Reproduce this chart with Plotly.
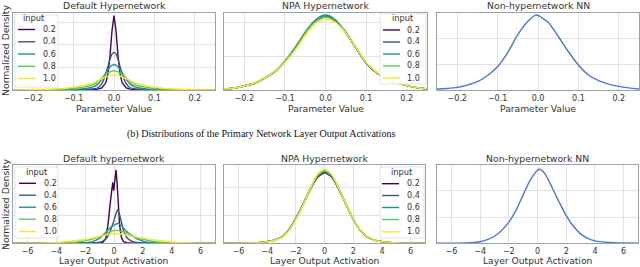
import plotly.graph_objects as go

# ---------------- data ----------------
inputs = ["0.2", "0.4", "0.6", "0.8", "1.0"]
colors = ["#440154", "#3b528b", "#21918c", "#5ec962", "#fde725"]

# (a) parameter values, Default Hypernetwork
p_def_x = [-0.25, -0.2, -0.15, -0.12, -0.1, -0.08, -0.06, -0.05, -0.04, -0.03, -0.02, -0.015, -0.01, -0.005, 0,
           0.005, 0.01, 0.015, 0.02, 0.03, 0.04, 0.05, 0.06, 0.08, 0.1, 0.12, 0.15, 0.2, 0.25]
p_def_02 = [0, 0, 0, 0.002, 0.004, 0.008, 0.015, 0.022, 0.04, 0.09, 0.33, 0.72, 1.5, 2.62, 3.31,
            2.62, 1.5, 0.72, 0.33, 0.09, 0.04, 0.022, 0.015, 0.008, 0.004, 0.002, 0, 0, 0]
p_def_04 = [0, 0.001, 0.003, 0.006, 0.01, 0.018, 0.035, 0.055, 0.1, 0.28, 0.73, 1.05, 1.36, 1.59, 1.67,
            1.59, 1.36, 1.05, 0.73, 0.28, 0.1, 0.055, 0.035, 0.018, 0.01, 0.006, 0.003, 0.001, 0]
p_def_06 = [0, 0.003, 0.008, 0.015, 0.025, 0.045, 0.1, 0.15, 0.26, 0.48, 0.77, 0.91, 1.02, 1.1, 1.12,
            1.1, 1.02, 0.91, 0.77, 0.48, 0.26, 0.15, 0.1, 0.045, 0.025, 0.015, 0.008, 0.003, 0]
p_def_08 = [0.001, 0.005, 0.015, 0.035, 0.065, 0.115, 0.19, 0.25, 0.37, 0.53, 0.69, 0.76, 0.81, 0.84, 0.85,
            0.84, 0.81, 0.76, 0.69, 0.53, 0.37, 0.25, 0.19, 0.115, 0.065, 0.035, 0.015, 0.005, 0.001]
p_def_10 = [0.003, 0.012, 0.045, 0.085, 0.13, 0.19, 0.27, 0.32, 0.41, 0.5, 0.58, 0.62, 0.64, 0.66, 0.66,
            0.66, 0.64, 0.62, 0.58, 0.5, 0.41, 0.32, 0.27, 0.19, 0.13, 0.085, 0.045, 0.012, 0.003]

# (a) parameter values, NPA Hypernetwork
p_npa_x = [-0.25, -0.225, -0.2, -0.175, -0.15, -0.125, -0.1, -0.075, -0.05, -0.0375, -0.025, -0.0125, 0,
           0.0125, 0.025, 0.0375, 0.05, 0.075, 0.1, 0.125, 0.15, 0.175, 0.2, 0.225, 0.25]
p_npa_02 = [0.03, 0.06, 0.12, 0.2, 0.35, 0.54, 0.84, 1.24, 1.7, 1.88, 2.03, 2.13, 2.18,
            2.14, 2.04, 1.89, 1.71, 1.25, 0.8, 0.52, 0.35, 0.22, 0.13, 0.07, 0.03]
p_npa_04 = [0.03, 0.06, 0.12, 0.2, 0.35, 0.55, 0.85, 1.25, 1.71, 1.9, 2.05, 2.16, 2.2,
            2.16, 2.05, 1.9, 1.71, 1.25, 0.8, 0.52, 0.35, 0.22, 0.13, 0.07, 0.03]
p_npa_06 = [0.03, 0.06, 0.12, 0.2, 0.35, 0.55, 0.85, 1.26, 1.72, 1.92, 2.08, 2.19, 2.23,
            2.19, 2.08, 1.91, 1.72, 1.26, 0.81, 0.52, 0.35, 0.22, 0.13, 0.07, 0.03]
p_npa_08 = [0.03, 0.06, 0.12, 0.2, 0.35, 0.55, 0.84, 1.23, 1.69, 1.88, 2.03, 2.13, 2.17,
            2.13, 2.03, 1.88, 1.7, 1.26, 0.81, 0.53, 0.35, 0.22, 0.13, 0.07, 0.03]
p_npa_10 = [0.03, 0.06, 0.12, 0.21, 0.36, 0.55, 0.82, 1.18, 1.62, 1.82, 1.98, 2.07, 2.1,
            2.08, 2.0, 1.87, 1.7, 1.27, 0.83, 0.54, 0.36, 0.22, 0.13, 0.07, 0.03]

# (a) parameter values, Non-hypernetwork NN
p_nn_x = [-0.25, -0.225, -0.2, -0.175, -0.15, -0.125, -0.1, -0.075, -0.05, -0.025, -0.006, 0,
          0.025, 0.05, 0.075, 0.1, 0.125, 0.15, 0.175, 0.2, 0.225, 0.25]
p_nn_y = [0.04, 0.06, 0.1, 0.19, 0.32, 0.56, 0.91, 1.45, 2.14, 2.66, 2.9, 2.89,
          2.62, 2.08, 1.49, 0.97, 0.58, 0.36, 0.23, 0.14, 0.08, 0.04]

# (b) layer output activations, Default hypernetwork
a_def_x02 = [-7, -2, -1.2, -0.8, -0.57, -0.41, -0.28, -0.16, -0.09, -0.02, 0.05, 0.14, 0.21, 0.3, 0.39,
             0.51, 0.64, 0.92, 1.5, 7]
a_def_02 = [0, 0, 0.005, 0.02, 0.17, 0.71, 1.37, 2.04, 2.22, 1.92, 2.4, 2.67, 2.22, 1.37, 0.65,
            0.23, 0.07, 0.01, 0, 0]
a_def_x04 = [-7, -2, -1.26, -0.8, -0.46, -0.2, 0, 0.12, 0.25, 0.35, 0.46, 0.69, 0.92, 1.26, 1.72, 2.5, 7]
a_def_04 = [0, 0.005, 0.02, 0.07, 0.23, 0.53, 0.83, 1.05, 1.22, 1.1, 0.89, 0.41, 0.19, 0.07, 0.02, 0.005, 0]
a_def_x06 = [-7, -3, -1.95, -1.26, -0.8, -0.34, 0, 0.3, 0.55, 0.8, 1.26, 1.72, 2.18, 3, 7]
a_def_06 = [0, 0.005, 0.02, 0.11, 0.27, 0.53, 0.66, 0.73, 0.62, 0.47, 0.27, 0.13, 0.05, 0.01, 0]
a_def_x08 = [-7, -4, -2.64, -1.95, -1.26, -0.8, -0.34, 0, 0.23, 0.5, 0.8, 1.26, 1.72, 2.41, 3.1, 4, 7]
a_def_08 = [0, 0.005, 0.04, 0.1, 0.19, 0.29, 0.41, 0.46, 0.47, 0.44, 0.39, 0.29, 0.19, 0.1, 0.04, 0.01, 0]
a_def_x10 = [-7, -5.5, -4.7, -3.56, -2.64, -1.95, -1.26, -0.8, -0.3, 0, 0.3, 0.6, 1.26, 2.18, 3.1, 4.0, 5.2, 7]
a_def_10 = [0, 0.003, 0.01, 0.05, 0.1, 0.14, 0.22, 0.27, 0.33, 0.35, 0.35, 0.33, 0.25, 0.17, 0.1, 0.05, 0.01, 0]

# (b) layer output activations, NPA Hypernetwork
a_npa_x = [-7, -6, -5, -4, -3.5, -3, -2.5, -2, -1.5, -1, -0.5, 0, 0.5, 1, 1.5, 2, 2.5, 3, 3.5, 4, 5, 6, 7]
a_npa_02 = [0, 0.002, 0.01, 0.06, 0.11, 0.22, 0.46, 0.88, 1.37, 1.92, 2.35, 2.52, 2.37, 1.93, 1.39, 0.86,
            0.46, 0.22, 0.11, 0.06, 0.01, 0.002, 0]
a_npa_04 = [0, 0.002, 0.01, 0.06, 0.11, 0.22, 0.46, 0.89, 1.38, 1.94, 2.38, 2.55, 2.39, 1.94, 1.39, 0.86,
            0.46, 0.22, 0.11, 0.06, 0.01, 0.002, 0]
a_npa_06 = [0, 0.002, 0.01, 0.06, 0.11, 0.22, 0.46, 0.9, 1.4, 1.96, 2.41, 2.58, 2.41, 1.95, 1.39, 0.86,
            0.46, 0.22, 0.11, 0.06, 0.01, 0.002, 0]
a_npa_08 = [0, 0.002, 0.01, 0.06, 0.11, 0.22, 0.45, 0.88, 1.38, 1.95, 2.42, 2.6, 2.43, 1.96, 1.4, 0.87,
            0.46, 0.22, 0.11, 0.06, 0.01, 0.002, 0]
a_npa_10 = [0, 0.002, 0.01, 0.05, 0.1, 0.2, 0.43, 0.85, 1.35, 1.95, 2.46, 2.66, 2.47, 1.97, 1.4, 0.87,
            0.47, 0.23, 0.11, 0.06, 0.01, 0.002, 0]

# (b) layer output activations, Non-hypernetwork NN
a_nn_x = [-7, -6, -5, -4, -3.5, -3, -2.5, -2, -1.5, -1, -0.5, 0, 0.16, 0.5, 1, 1.5, 2, 2.5, 3, 3.5, 4, 5, 6, 7]
a_nn_y = [0, 0.003, 0.01, 0.06, 0.14, 0.27, 0.49, 0.81, 1.26, 1.85, 2.42, 2.79, 2.83, 2.67, 2.15, 1.58,
          1.06, 0.65, 0.36, 0.19, 0.09, 0.03, 0.01, 0]

top_titles = ["Default Hypernetwork", "NPA Hypernetwork", "Non-hypernetwork NN"]
bot_titles = ["Default hypernetwork", "NPA Hypernetwork", "Non-hypernetwork NN"]
top_xlabel = "Parameter Value"
bot_xlabel = "Layer Output Activation"
ylabel = "Normalized Density"
caption = "(b) Distributions of the Primary Network Layer Output Activations"
top_ticks = [-0.2, -0.1, 0.0, 0.1, 0.2]
bot_ticks = [-6, -4, -2, 0, 2, 4, 6]
nn_color = "#4878d0"

# ---------------- layout helpers ----------------
W, H = 640, 267
def px(x):
    return x / W
def py(y):
    return 1 - y / H

FONT = "DejaVu Sans"
TXT = "#333333"
FRAME = "#9aa1b0"
GRID = "#e2e2e2"

fig = go.Figure()

# axis ids: 1..3 top, 4..6 bottom
xdoms = [(13, 215), (224, 427), (437, 639), (13, 215), (224, 425), (437, 638)]
ydoms = [(13, 90)] * 3 + [(165, 243.3)] * 3
yranges = [[0, 3.42], [0, 2.29], [0, 2.98], [0, 2.85], [0, 2.8], [0, 2.99]]

def add(i, x, y, color, shape="spline"):
    sfx = "" if i == 1 else str(i)
    fig.add_trace(go.Scatter(x=x, y=y, mode="lines", xaxis="x" + sfx, yaxis="y" + sfx,
                             line=dict(color=color, width=1.4, shape=shape, smoothing=0.6),
                             showlegend=False, hoverinfo="skip"))

for c, y in zip(colors, [p_def_02, p_def_04, p_def_06, p_def_08, p_def_10]):
    add(1, p_def_x, y, c, "linear" if c == colors[0] else "spline")
for c, y in zip(colors, [p_npa_02, p_npa_04, p_npa_06, p_npa_08, p_npa_10]):
    add(2, p_npa_x, y, c)
add(3, p_nn_x, p_nn_y, nn_color)
for c, x, y in zip(colors, [a_def_x02, a_def_x04, a_def_x06, a_def_x08, a_def_x10],
                   [a_def_02, a_def_04, a_def_06, a_def_08, a_def_10]):
    add(4, x, y, c, "linear" if c == colors[0] else "spline")
for c, y in zip(colors, [a_npa_02, a_npa_04, a_npa_06, a_npa_08, a_npa_10]):
    add(5, a_npa_x, y, c)
add(6, a_nn_x, a_nn_y, nn_color)

layout = dict(width=W, height=H, margin=dict(l=0, r=0, t=0, b=0),
              paper_bgcolor="white", plot_bgcolor="white",
              font=dict(family=FONT, color=TXT, size=8), showlegend=False)
for i in range(6):
    sfx = "" if i == 0 else str(i + 1)
    top = i < 3
    layout["xaxis" + sfx] = dict(
        domain=[px(xdoms[i][0]), px(xdoms[i][1])], anchor="y" + sfx,
        range=[-0.25, 0.25] if top else [-7, 7],
        tickvals=top_ticks if top else bot_ticks,
        tickformat=".1f" if top else "d",
        showline=True, mirror=True, linecolor=FRAME, linewidth=1,
        showgrid=True, gridcolor=GRID, gridwidth=1, zeroline=False, ticks="",
        tickfont=dict(size=8, color=TXT, family=FONT))
    layout["yaxis" + sfx] = dict(
        domain=[py(ydoms[i][1]), py(ydoms[i][0])], anchor="x" + sfx,
        range=yranges[i], dtick=1, showticklabels=False,
        showline=True, mirror=True, linecolor=FRAME, linewidth=1,
        showgrid=True, gridcolor=GRID, gridwidth=1, zeroline=False, ticks="")

annotations = []
shapes = []
def text(x, y, s, size=9.3, angle=0, family=FONT, color=TXT, xanchor="center"):
    annotations.append(dict(x=px(x), y=py(y), xref="paper", yref="paper", text=s, showarrow=False,
                            textangle=angle, xanchor=xanchor, yanchor="middle", borderpad=0,
                            font=dict(size=size, family=family, color=color)))

for i in range(3):
    cx = (xdoms[i][0] + xdoms[i][1]) / 2
    text(cx, 5.5, top_titles[i])
    text(cx, 108.5, top_xlabel, size=9.2)
    cx = (xdoms[i + 3][0] + xdoms[i + 3][1]) / 2
    text(cx, 158, bot_titles[i])
    text(cx, 260.5, bot_xlabel, size=9.2)
text(5, 50, ylabel, angle=-90)
text(5, 204, ylabel, angle=-90)
text(261, 134, caption, size=10, family="Liberation Serif", color="#111111")

def legend(box, title_xy, line_x, text_x, ys):
    shapes.append(dict(type="rect", xref="paper", yref="paper",
                       x0=px(box[0]), x1=px(box[1]), y0=py(box[3]), y1=py(box[2]),
                       fillcolor="rgba(255,255,255,0.85)", line=dict(color="#dddddd", width=0.8)))
    text(title_xy[0], title_xy[1], "input", size=8.3)
    for lab, c, yy in zip(inputs, colors, ys):
        shapes.append(dict(type="line", xref="paper", yref="paper",
                           x0=px(line_x[0]), x1=px(line_x[1]), y0=py(yy), y1=py(yy),
                           line=dict(color=c, width=1.4)))
        text(text_x, yy, lab, size=8, xanchor="left")

legend((15, 58, 15, 87), (34, 17.5), (18, 35), 42, [29.5, 41.8, 54, 66.3, 78.5])
legend((380, 426, 14, 84), (403, 17.5), (383, 400), 406, [30, 42, 54, 66, 78])
legend((15, 58, 167, 238), (37, 171.5), (19, 36), 43, [183.3, 195.2, 207.2, 219.2, 231.5])
legend((380, 424, 167, 238), (402, 171.5), (382, 399), 406, [183.7, 195.5, 207.5, 219.5, 231.8])

layout["annotations"] = annotations
layout["shapes"] = shapes
fig.update_layout(**layout)
fig.write_html("out.html", config={"displayModeBar": False},
               post_script="document.body.style.margin='0';document.body.style.padding='0';")
